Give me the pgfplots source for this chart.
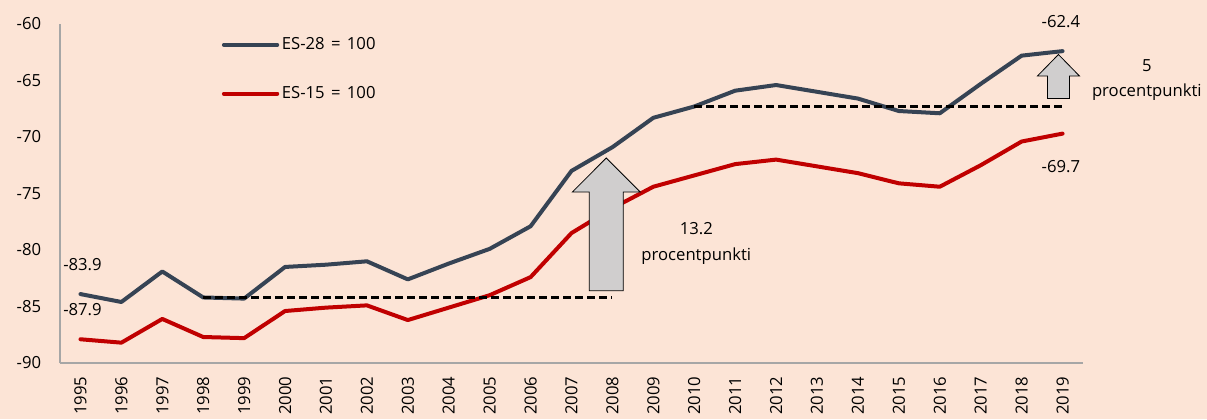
\documentclass[border=0pt]{standalone}
\usepackage{fontspec}
\setmainfont{Open Sans}
\usepackage{pgfplots}
\pgfplotsset{compat=1.18}
\definecolor{bgcol}{HTML}{FCE4D6}
\definecolor{es28}{HTML}{364354}
\definecolor{es15}{HTML}{C00000}
\definecolor{axisgrey}{HTML}{A6A6A6}
\definecolor{arrowgrey}{HTML}{D0CECE}
\newcommand{\fs}{\fontsize{12.5}{15}\selectfont}

\begin{document}
\begin{tikzpicture}
\fill[bgcol] (0,0) rectangle (905.25pt,314.25pt);
\begin{axis}[
    at={(45pt,42pt)}, anchor=south west,
    scale only axis, width=767.25pt, height=254.25pt,
    xmin=-0.5, xmax=24.5, ymin=-90, ymax=-60,
    axis x line=bottom, axis y line=left,
    axis line style={draw=axisgrey, line width=1.1pt, -},
    major tick length=0pt,
    xtick={0,1,...,24},
    xticklabels={1995,1996,1997,1998,1999,2000,2001,2002,2003,2004,2005,2006,2007,2008,2009,2010,2011,2012,2013,2014,2015,2016,2017,2018,2019},
    ytick={-90,-85,...,-60},
    /pgf/number format/assume math mode=true,
    tick label style={font=\fs},
    x tick label style={rotate=90, anchor=east, inner sep=0pt},
    xticklabel shift=10pt,
    y tick label style={anchor=east, inner sep=0pt},
    yticklabel shift=14pt,
    clip=false,
    legend cell align=left,
    legend style={at={(0.158,0.968)}, anchor=north west, draw=none, fill=none,
        font=\fs, row sep=22pt, inner sep=0pt},
    legend image code/.code={\draw[#1, line cap=round] (0pt,0pt) -- (40pt,0pt);},
]
% x = year - 1995
\addplot[es28, line width=3pt, line join=round, line cap=round] coordinates {
(0,-83.9) (1,-84.6) (2,-81.9) (3,-84.2) (4,-84.3)
(5,-81.5) (6,-81.3) (7,-81.0) (8,-82.6) (9,-81.2)
(10,-79.9) (11,-77.9) (12,-73.0) (13,-70.9) (14,-68.3)
(15,-67.3) (16,-65.9) (17,-65.4) (18,-66.0) (19,-66.6)
(20,-67.7) (21,-67.9) (22,-65.3) (23,-62.8) (24,-62.4)};
\addlegendentry{ES-28\hspace{0.12em} =\hspace{0.12em} 100}
\addplot[es15, line width=3pt, line join=round, line cap=round] coordinates {
(0,-87.9) (1,-88.2) (2,-86.1) (3,-87.7) (4,-87.8)
(5,-85.4) (6,-85.1) (7,-84.9) (8,-86.2) (9,-85.1)
(10,-84.0) (11,-82.4) (12,-78.5) (13,-76.3) (14,-74.4)
(15,-73.4) (16,-72.4) (17,-72.0) (18,-72.6) (19,-73.2)
(20,-74.1) (21,-74.4) (22,-72.5) (23,-70.4) (24,-69.7)};
\addlegendentry{ES-15\hspace{0.12em} =\hspace{0.12em} 100}
\addplot[black, line width=1.8pt, dash pattern=on 5.5pt off 3.5pt, forget plot] coordinates {(3,-84.2) (13,-84.2)};
\addplot[black, line width=1.8pt, dash pattern=on 5.5pt off 3.5pt, forget plot] coordinates {(15,-67.3) (24,-67.3)};

\draw[fill=arrowgrey, line width=0.6pt]
  ([xshift=-12.75pt]axis cs:12.85,-83.6) -- ([xshift=-12.75pt]axis cs:12.85,-74.87)
  -- ([xshift=-25.5pt]axis cs:12.85,-74.87) -- (axis cs:12.85,-71.86)
  -- ([xshift=25.5pt]axis cs:12.85,-74.87) -- ([xshift=12.75pt]axis cs:12.85,-74.87)
  -- ([xshift=12.75pt]axis cs:12.85,-83.6) -- cycle;
\draw[fill=arrowgrey, line width=0.6pt]
  ([xshift=-8.25pt]axis cs:23.9,-66.6) -- ([xshift=-8.25pt]axis cs:23.9,-64.6)
  -- ([xshift=-15.75pt]axis cs:23.9,-64.6) -- (axis cs:23.9,-62.7)
  -- ([xshift=15.75pt]axis cs:23.9,-64.6) -- ([xshift=8.25pt]axis cs:23.9,-64.6)
  -- ([xshift=8.25pt]axis cs:23.9,-66.6) -- cycle;

\node[align=center, font=\fontsize{12.5}{19.5}\selectfont] at (axis cs:15.05,-79.4) {13.2\\procentpunkti};
\node[align=center, font=\fontsize{12.5}{19}\selectfont] at (axis cs:26.06,-64.96) {5\\procentpunkti};
\node[font=\fs] at (axis cs:23.96,-59.8) {-62.4};
\node[font=\fs] at (axis cs:23.96,-72.65) {-69.7};
\node[font=\fs] at (axis cs:0.05,-81.3) {-83.9};
\node[font=\fs] at (axis cs:0.05,-85.3) {-87.9};
\end{axis}
\end{tikzpicture}
\end{document}
